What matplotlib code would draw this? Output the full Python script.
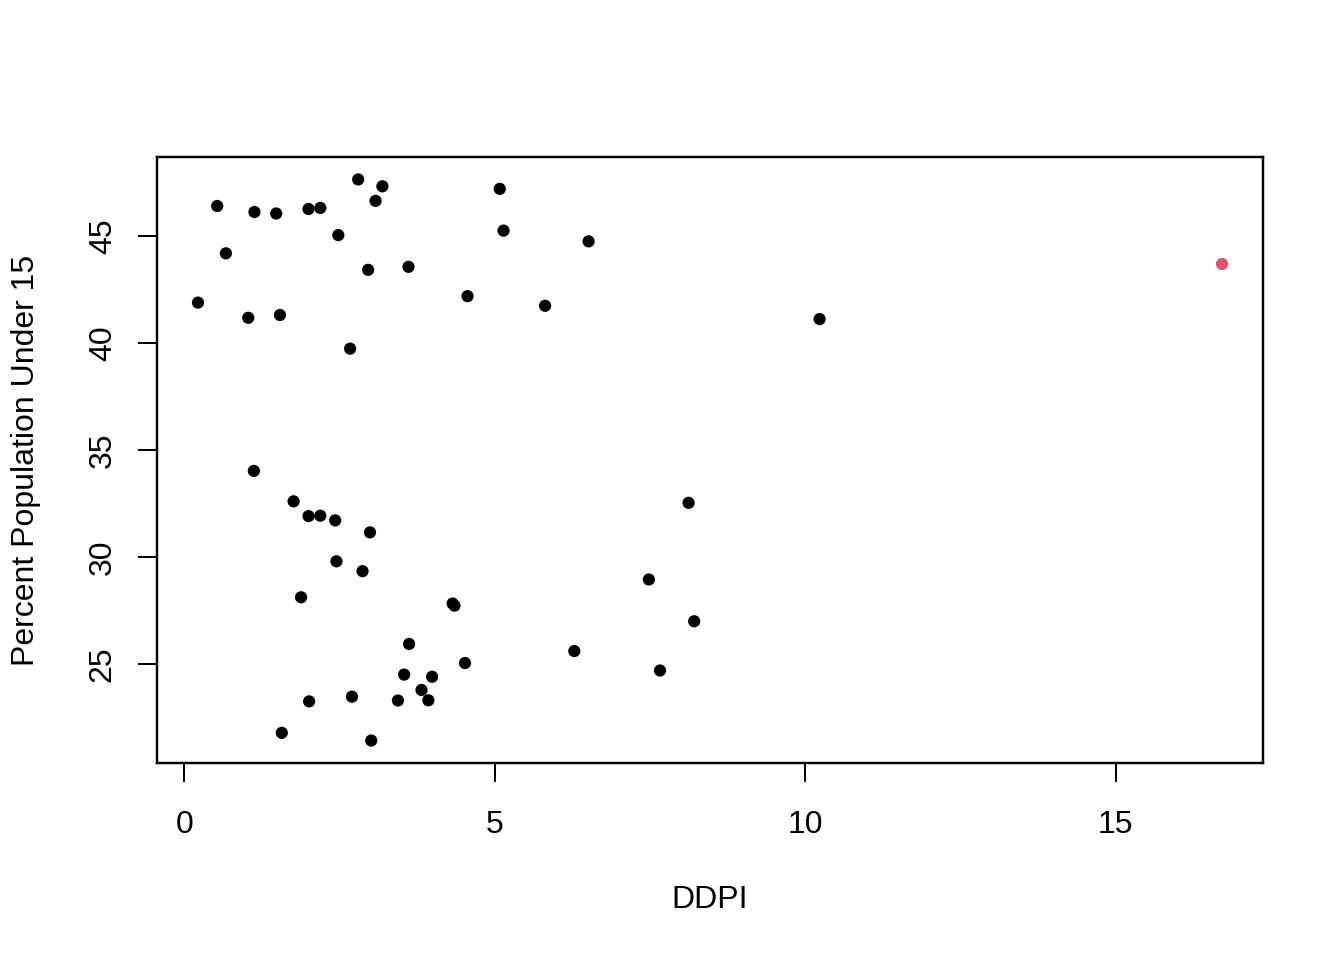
import matplotlib.pyplot as plt

plt.rcParams["font.family"] = ["Liberation Sans", "DejaVu Sans"]

# LifeCycleSavings: DDPI vs pop15 (Libya highlighted)
countries = ["Australia", "Austria", "Belgium", "Bolivia", "Brazil", "Canada", "Chile",
             "China", "Colombia", "Costa Rica", "Denmark", "Ecuador", "Finland", "France",
             "Germany", "Greece", "Guatamala", "Honduras", "Iceland", "India", "Ireland",
             "Italy", "Japan", "Korea", "Luxembourg", "Malta", "Norway", "Netherlands",
             "New Zealand", "Nicaragua", "Panama", "Paraguay", "Peru", "Philippines",
             "Portugal", "South Africa", "South Rhodesia", "Spain", "Sweden", "Switzerland",
             "Turkey", "Tunisia", "United Kingdom", "United States", "Venezuela", "Zambia",
             "Jamaica", "Uruguay", "Libya", "Malaysia"]
ddpi = [2.87, 3.93, 3.82, 0.22, 4.56, 2.43, 2.67, 6.51, 3.08, 2.80, 3.99, 2.19, 4.32, 4.52,
        3.44, 6.28, 1.48, 3.19, 1.12, 1.54, 2.99, 3.54, 8.21, 5.81, 1.57, 8.12, 3.62, 7.66,
        1.76, 2.48, 3.61, 1.03, 0.67, 2.00, 7.48, 2.19, 2.00, 4.35, 3.01, 2.70, 2.96, 1.13,
        2.01, 2.45, 0.53, 5.14, 10.23, 1.88, 16.71, 5.08]
pop15 = [29.35, 23.32, 23.80, 41.89, 42.19, 31.72, 39.74, 44.75, 46.64, 47.64, 24.42, 46.31,
         27.84, 25.06, 23.31, 25.62, 46.05, 47.32, 34.03, 41.31, 31.16, 24.52, 27.01, 41.74,
         21.80, 32.54, 25.95, 24.71, 32.61, 45.04, 43.56, 41.18, 44.19, 46.26, 28.96, 31.94,
         31.92, 27.74, 21.44, 23.49, 43.42, 46.12, 23.27, 29.81, 46.40, 45.25, 41.12, 28.13,
         43.69, 47.20]
highlight = "Libya"

colors = ["#DF536B" if c == highlight else "black" for c in countries]

W, H = 1344, 960
fig = plt.figure(figsize=(7, 5), dpi=192)
ax = fig.add_axes([157 / W, 1 - 763 / H, (1263 - 157) / W, (763 - 157) / H])

ax.scatter(ddpi, pop15, s=21, c=colors, linewidths=0, zorder=3)

xr = max(ddpi) - min(ddpi)
yr = max(pop15) - min(pop15)
ax.set_xlim(min(ddpi) - 0.04 * xr, max(ddpi) + 0.04 * xr)
ax.set_ylim(min(pop15) - 0.04 * yr, max(pop15) + 0.04 * yr)

ax.set_xticks([0, 5, 10, 15])
ax.set_yticks([25, 30, 35, 40, 45])
ax.tick_params(direction="out", length=7.2, width=0.75, labelsize=12)
ax.tick_params(axis="x", pad=10.5)
ax.tick_params(axis="y", pad=7.5)
for lab in ax.get_yticklabels():
    lab.set_rotation(90)
    lab.set_va("center")
for sp in ax.spines.values():
    sp.set_linewidth(0.9)

fig.text(710 / W, 1 - 900 / H, "DDPI", ha="center", va="center", fontsize=12)
fig.text(26 / W, 1 - 460 / H, "Percent Population Under 15", ha="center", va="center",
         rotation=90, fontsize=12)

fig.savefig("out.png", dpi=192)
